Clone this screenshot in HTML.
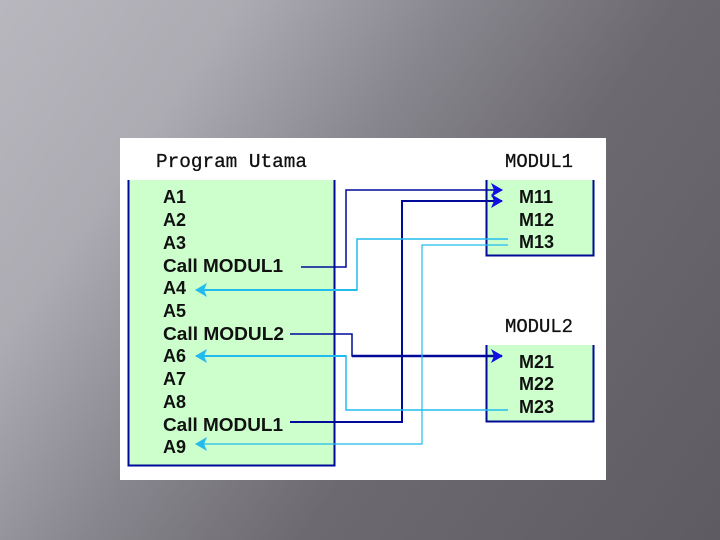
<!DOCTYPE html>
<html><head><meta charset="utf-8"><style>
html,body{margin:0;padding:0}
body{width:720px;height:540px;overflow:hidden;background:linear-gradient(125deg,#b9b7be 0%,#adabb2 22%,#88868d 42%,#6c6a70 62%,#5e5c62 100%);}
svg{position:absolute;left:0;top:0}
</style></head><body>
<svg width="720" height="540" xmlns="http://www.w3.org/2000/svg">
<defs>
<marker id="db" markerWidth="12" markerHeight="14" refX="11" refY="7" orient="auto" markerUnits="userSpaceOnUse"><path d="M0,0 L12,7 L0,14 L3,7 Z" fill="#1010e0"/></marker>
<marker id="lb" markerWidth="12" markerHeight="14" refX="11" refY="7" orient="auto" markerUnits="userSpaceOnUse"><path d="M0,0 L12,7 L0,14 L3,7 Z" fill="#22bbee"/></marker>
</defs>
<rect x="120" y="138" width="486" height="342" fill="#fff"/>
<rect x="128" y="180" width="207" height="286" fill="#ccffcc"/>
<path d="M128.5,180 V465.5 H334.5 V180" fill="none" stroke="#000a99" stroke-width="2"/>
<rect x="486" y="180" width="108" height="76" fill="#ccffcc"/>
<path d="M486.5,180 V255.5 H593.5 V180" fill="none" stroke="#000a99" stroke-width="2"/>
<rect x="486" y="345" width="108" height="77" fill="#ccffcc"/>
<path d="M486.5,345 V421.5 H593.5 V345" fill="none" stroke="#000a99" stroke-width="2"/>
<g font-family="Liberation Mono, monospace" font-size="19" fill="#111" stroke="#111" stroke-width="0.3">
<text x="156" y="167" textLength="151" lengthAdjust="spacingAndGlyphs">Program Utama</text>
<text x="505" y="167" textLength="68" lengthAdjust="spacingAndGlyphs">MODUL1</text>
<text x="505" y="332" textLength="68" lengthAdjust="spacingAndGlyphs">MODUL2</text>
</g>
<g font-family="Liberation Sans, sans-serif" font-size="18" font-weight="bold" fill="#111">
<text x="163" y="203">A1</text>
<text x="163" y="226">A2</text>
<text x="163" y="249">A3</text>
<text x="163" y="272" textLength="120" lengthAdjust="spacingAndGlyphs">Call MODUL1</text>
<text x="163" y="294">A4</text>
<text x="163" y="317">A5</text>
<text x="163" y="340" textLength="121" lengthAdjust="spacingAndGlyphs">Call MODUL2</text>
<text x="163" y="362">A6</text>
<text x="163" y="385">A7</text>
<text x="163" y="408">A8</text>
<text x="163" y="431" textLength="120" lengthAdjust="spacingAndGlyphs">Call MODUL1</text>
<text x="163" y="453">A9</text>
<text x="519" y="203">M11</text>
<text x="519" y="226">M12</text>
<text x="519" y="248">M13</text>
<text x="519" y="368">M21</text>
<text x="519" y="390">M22</text>
<text x="519" y="413">M23</text>
</g>
<g fill="none">
<path d="M301,267 H346 V190 H502" stroke="#000a99" stroke-width="1.5" marker-end="url(#db)"/>
<path d="M290,422 H402 V201 H502" stroke="#000a99" stroke-width="2" marker-end="url(#db)"/>
<path d="M290,334 H352 V356 H502" stroke="#000a99" stroke-width="1.5"/>
<path d="M352,356 H502" stroke="#000a99" stroke-width="2.5" marker-end="url(#db)"/>
<path d="M508,239 H357 V290 H196" stroke="#22bbee" stroke-width="1.5"/>
<path d="M357,290 H196" stroke="#22bbee" stroke-width="2" marker-end="url(#lb)"/>
<path d="M508,245 H422 V444 H196" stroke="#22bbee" stroke-width="1.2" marker-end="url(#lb)"/>
<path d="M508,410 H346 V356 H196" stroke="#22bbee" stroke-width="1.5"/>
<path d="M346,356 H196" stroke="#22bbee" stroke-width="2" marker-end="url(#lb)"/>
</g>
</svg>
</body></html>
